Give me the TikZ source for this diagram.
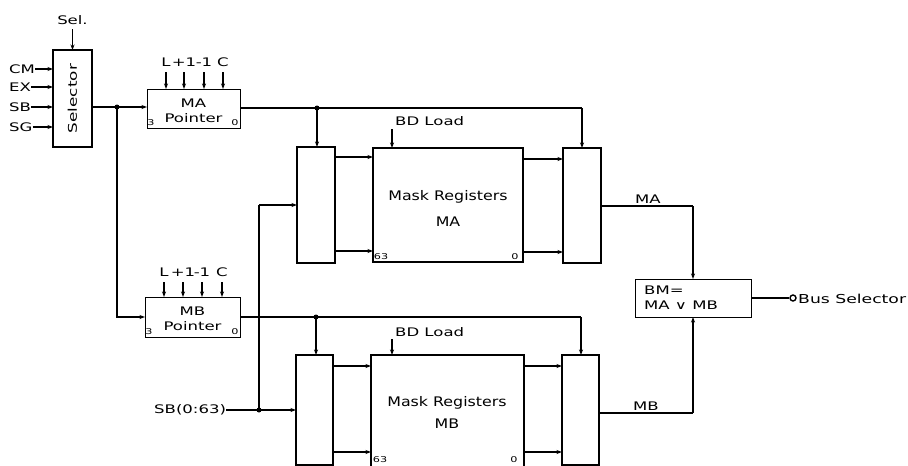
\documentclass[tikz,border=0pt]{standalone}
\usepackage{fontspec}
\setmainfont{DejaVu Sans}[FakeStretch=1.4]
\newfontfamily\mfont{DejaVu Sans}[FakeStretch=1.2]
\usetikzlibrary{arrows.meta}
\tikzset{
  x=1pt,y=-1pt,
  wire/.style={line width=1.4pt},
  arr/.style={wire,-{Stealth[length=5.5pt,width=4pt]}},
  blk/.style={draw,line width=1.4pt},
  lab/.style={inner sep=0pt,font=\fontsize{11.8}{12}\selectfont},
  tiny/.style={inner sep=0pt,font=\fontsize{8}{8}\selectfont},
  dot/.style={circle,fill,inner sep=0pt,minimum size=5pt},
  big/.style={inner sep=0pt,font=\mfont\fontsize{13.2}{14}\selectfont},
}
\begin{document}
\begin{tikzpicture}
\useasboundingbox (0,0) rectangle (908,466);
\clip (0,0) rectangle (908,466);
% Selector
\draw[blk] (53,50) rectangle (92,147);
\node[lab,rotate=90,font=\fontsize{12}{12}\selectfont] (sel) at (72.5,98.5) {Selector};
\node[lab] (sellab) at (72.5,20) {Sel.};
\coordinate (selin) at (72.5,50);
\draw[arr] (72.5,29) -- (selin);
\foreach \t/\y in {CM/69,EX/87,SB/107,SG/127}{
  \node[lab,anchor=west] (in\t) at (9,\y) {\t};
  \draw[arr] (in\t.east) -- (53,\y);
}
% MA pointer
\node[blk,minimum width=93pt,minimum height=39pt,anchor=north west,inner sep=0pt] (pa) at (147,89) {};
\node[lab] (patxt) at (193.5,103) {MA};
\node[lab] (patxt2) at (193.5,118) {Pointer};
\node[tiny] (pa3) at (151,123) {3};
\node[tiny] (pa0) at (235,123) {0};
\foreach \t/\x in {L/166,+1/184,-1/204,C/223}{
  \node[lab] (pal\x) at (\x,62) {\t};
  \draw[arr] (\x,72) -- (\x,89);
}
% MB pointer
\node[blk,minimum width=95pt,minimum height=40pt,anchor=north west,inner sep=0pt] (pb) at (145,297) {};
\node[lab] (pbtxt) at (192.5,311) {MB};
\node[lab] (pbtxt2) at (192.5,326) {Pointer};
\node[tiny] (pb3) at (149,332) {3};
\node[tiny] (pb0) at (235,332) {0};
\foreach \t/\x in {L/164,+1/183,-1/202,C/222}{
  \node[lab] (pbl\x) at (\x,272) {\t};
  \draw[arr] (\x,282) -- (\x,297);
}
% selector outputs
\coordinate (j1) at (117,107);
\node[dot] at (j1) {};
\draw[arr] (92,107) -- (147,107);
\draw[arr] (j1) -- (117,317) -- (145,317);
% MA section
\draw[blk] (297,147) rectangle (335,263);
\draw[blk] (373,148) rectangle (523,262);
\draw[blk] (563,148) rectangle (601,263);
\node[big] (mra) at (448,197) {Mask Registers};
\node[big] (mra2) at (448,222) {MA};
\node[tiny] (ma63) at (381,257) {63};
\node[tiny] (ma0) at (515,257) {0};
\node[lab,anchor=west] (bda) at (395,121) {BD Load};
\draw[arr] (392,129) -- (392,148);
\draw[wire] (240,108) -- (582,108);
\node[dot] at (317,108) {};
\draw[arr] (317,108) -- (317,147);
\draw[arr] (582,108) -- (582,148);
\draw[arr] (335,157) -- (373,157);
\draw[arr] (335,251) -- (373,251);
\draw[arr] (523,159) -- (563,159);
\draw[arr] (523,252) -- (563,252);
% MB section
\draw[blk] (296,465) -- (296,355) -- (333,355) -- (333,465) -- cycle;
\draw[blk] (371,480) -- (371,355) -- (524,355) -- (524,480);
\draw[blk] (562,465) -- (562,355) -- (599,355) -- (599,465) -- cycle;
\node[big] (mrb) at (447,403) {Mask Registers};
\node[big] (mrb2) at (447,424) {MB};
\node[tiny] (mb63) at (380,460) {63};
\node[tiny] (mb0) at (514,460) {0};
\node[lab,anchor=west] (bdb) at (395,332) {BD Load};
\draw[arr] (392,339) -- (392,355);
\draw[wire] (240,317) -- (581,317);
\node[dot] at (316,317) {};
\draw[arr] (316,317) -- (316,355);
\draw[arr] (581,317) -- (581,355);
\draw[arr] (333,366) -- (371,366);
\draw[arr] (333,452) -- (371,452);
\draw[arr] (524,366) -- (562,366);
\draw[arr] (524,452) -- (562,452);
% SB input
\node[lab,anchor=west] (sbin) at (154,410) {SB(0:63)};
\node[dot] at (259,410) {};
\draw[arr] (sbin.east) -- (296,410);
\draw[wire] (259,410) -- (259,205);
\draw[arr] (259,205) -- (297,205);
% BM
\node[blk,minimum width=116pt,minimum height=38pt,anchor=north west,inner sep=0pt] (bm) at (635,279) {};
\node[lab,anchor=west] (bmt1) at (644,290) {BM=};
\node[lab] (bmt2) at (681,305) {MA ∨ MB};
\draw[wire] (601,206) -- (693,206);
\draw[arr] (693,206) -- (693,279);
\node[lab,anchor=south] (lma) at (648,204) {MA};
\draw[wire] (599,413) -- (693,413);
\draw[arr] (693,413) -- (693,317);
\node[lab,anchor=south] (lmb) at (646,411) {MB};
\node[circle,draw,line width=1.4pt,inner sep=0pt,minimum size=6pt] (bso) at (793,298) {};
\draw[wire] (751,298) -- (bso.west);
\node[lab,anchor=west,font=\fontsize{12.3}{13}\selectfont] (bs) at (798,299) {Bus Selector};
\end{tikzpicture}
\end{document}
